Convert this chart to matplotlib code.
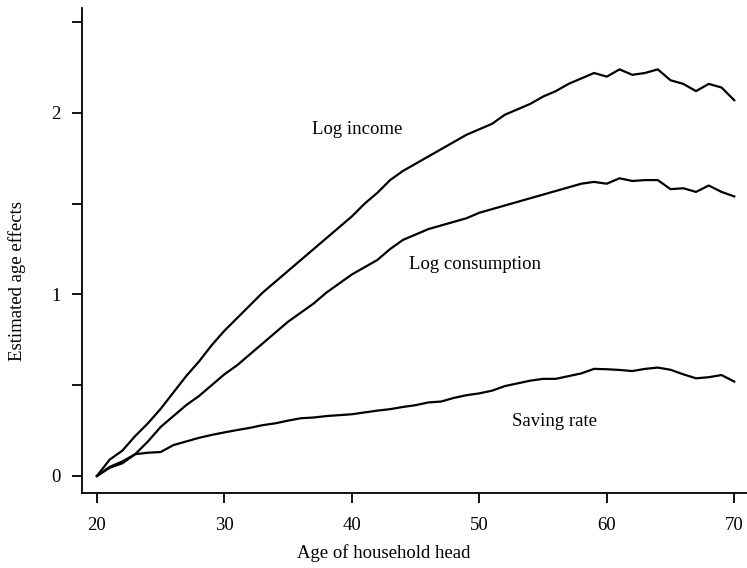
import matplotlib
matplotlib.use("Agg")
import matplotlib.pyplot as plt
import numpy as np

# age effects, one value per year of age 20..70
ages = np.arange(20, 71)
log_income = [0.00, 0.09, 0.14, 0.22, 0.29, 0.37, 0.46, 0.55, 0.63, 0.72,
              0.80, 0.87, 0.94, 1.01, 1.07, 1.13, 1.19, 1.25, 1.31, 1.37,
              1.43, 1.50, 1.56, 1.63, 1.68, 1.72, 1.76, 1.80, 1.84, 1.88,
              1.91, 1.94, 1.99, 2.02, 2.05, 2.09, 2.12, 2.16, 2.19, 2.22,
              2.20, 2.24, 2.21, 2.22, 2.24, 2.18, 2.16, 2.12, 2.16, 2.14,
              2.07]
log_consumption = [0.00, 0.05, 0.08, 0.12, 0.19, 0.27, 0.33, 0.39, 0.44, 0.50,
                   0.56, 0.61, 0.67, 0.73, 0.79, 0.85, 0.90, 0.95, 1.01, 1.06,
                   1.11, 1.15, 1.19, 1.25, 1.30, 1.33, 1.36, 1.38, 1.40, 1.42,
                   1.45, 1.47, 1.49, 1.51, 1.53, 1.55, 1.57, 1.59, 1.61, 1.62,
                   1.61, 1.64, 1.625, 1.63, 1.63, 1.58, 1.585, 1.565, 1.60, 1.565,
                   1.54]
saving_rate = [0.00, 0.045, 0.07, 0.12, 0.128, 0.132, 0.17, 0.19, 0.21, 0.226,
               0.24, 0.253, 0.265, 0.28, 0.29, 0.305, 0.318, 0.322, 0.33, 0.335,
               0.34, 0.35, 0.36, 0.368, 0.38, 0.39, 0.405, 0.41, 0.43, 0.445,
               0.455, 0.47, 0.495, 0.51, 0.525, 0.535, 0.535, 0.55, 0.565, 0.59,
               0.588, 0.584, 0.578, 0.59, 0.597, 0.585, 0.56, 0.538, 0.544, 0.556,
               0.52]

series_names = ["Log income", "Log consumption", "Saving rate"]
x_ticks = [20, 30, 40, 50, 60, 70]
y_ticks = [0, 0.5, 1, 1.5, 2, 2.5]
y_tick_labels = ["0", "", "1", "", "2", ""]

plt.rcParams['font.family'] = ['Liberation Serif', 'DejaVu Serif']
plt.rcParams['font.size'] = 13.5

fig = plt.figure(figsize=(7.47, 5.68), dpi=100)
ax = fig.add_axes([0.1098, 0.132, 0.8902, 0.8539])

for serie in (log_income, log_consumption, saving_rate):
	ax.plot(ages, serie, color='black', lw=1.6)

# curve labels placed next to each line
ax.text(36.85, 1.906, series_names[0], va='center', ha='left')
ax.text(44.45, 1.163, series_names[1], va='center', ha='left')
ax.text(52.6, 0.2975, series_names[2], va='center', ha='left')

ax.set_xlim(18.83, 71.0)
ax.set_ylim(-0.094, 2.578)
ax.set_xticks(x_ticks)
ax.set_yticks(y_ticks)
ax.set_yticklabels(y_tick_labels)
ax.spines['top'].set_visible(False)
ax.spines['right'].set_visible(False)
ax.spines['left'].set_linewidth(1.3)
ax.spines['bottom'].set_linewidth(1.3)
ax.tick_params(axis='both', direction='out', length=7.5, width=1.3)
ax.tick_params(axis='x', pad=10)
ax.tick_params(axis='y', pad=8)

ax.set_xlabel("Age of household head", va='center', ha='center')
ax.xaxis.set_label_coords(0.454, -0.124)
ax.set_ylabel("Estimated age effects", va='center', ha='center')
ax.yaxis.set_label_coords(-0.0977, 0.437)

plt.savefig("out.png", dpi=100)
